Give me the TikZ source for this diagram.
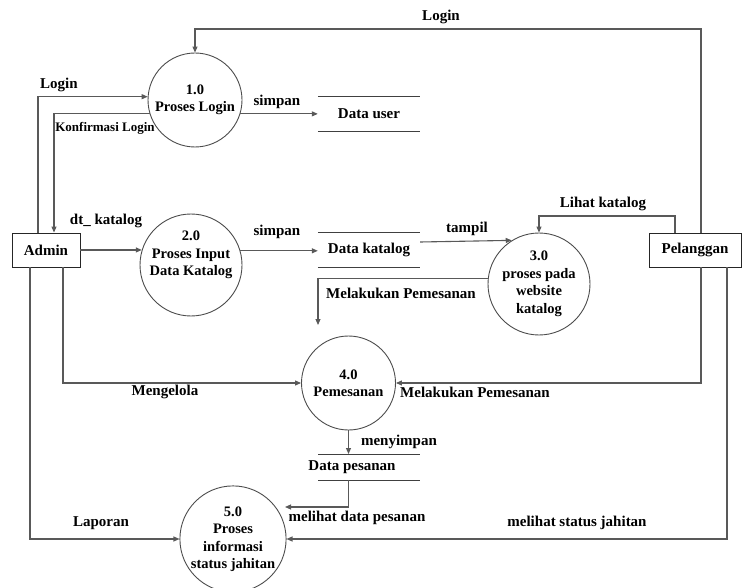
\documentclass[tikz,border=0pt]{standalone}
\usepackage{fontspec}
\setmainfont{Liberation Serif}
\usetikzlibrary{arrows.meta,calc}
\begin{document}
\begin{tikzpicture}[x=1pt,y=-1pt,
  font=\fontsize{15}{17.5}\selectfont\bfseries,
  proc/.style={circle,draw=black!70,line width=0.9pt,inner sep=0pt,align=center,font=\fontsize{14.5}{17.5}\selectfont\bfseries},
  ent/.style={rectangle,draw=black!85,line width=0.9pt,minimum height=34pt,inner sep=0pt},
  flow/.style={draw=black!65,line width=1.1pt,-{Triangle[length=6pt,width=5pt]}},
  plain/.style={draw=black!65,line width=1.1pt},
  storeline/.style={draw=black!75,line width=1pt},
  store/.style={inner sep=0pt,minimum width=102pt},
  lbl/.style={inner sep=0pt}]
\useasboundingbox (0,0) rectangle (742,588);

% processes
\node[proc,minimum size=94pt] (p1) at (195,100) {1.0\\Proses Login};
\node[proc,minimum size=102pt] (p2) at (191,265) {};
\node[lbl,align=center,font=\fontsize{14.5}{17.5}\selectfont\bfseries] (p2t) at ([yshift=10pt]p2.center) {2.0\\Proses Input\\Data Katalog};
\node[proc,minimum size=102pt] (p3) at (539,284) {3.0\\proses pada\\website\\katalog};
\node[proc,minimum size=94pt] (p4) at (348.5,383) {4.0\\Pemesanan};
\node[proc,minimum size=102pt] (p5) at (233,539) {5.0\\Proses\\informasi\\status jahitan};

% entities
\node[ent,minimum width=68pt] (adm) at (46,250) {Admin};
\node[ent,minimum width=92pt] (pel) at (695,250) {Pelanggan};

% data stores
\node[store,minimum height=34pt] (du) at (369,114) {Data user};
\node[store,minimum height=34pt] (dk) at (369,250) {Data katalog};
\node[store,minimum height=26pt] (dp) at (352,467) {Data pesanan};
\draw[storeline] (du.north west) -- (du.north east) (du.south west) -- (du.south east);
\draw[storeline] (dk.north west) -- (dk.north east) (dk.south west) -- (dk.south east);
\draw[storeline] (318,454) -- (420,454) (318,480) -- (420,480);

\coordinate (c1) at (318,325);
\coordinate (c2) at (285,507);

% flows
\draw[flow] ([xshift=6pt]pel.north) |- (p1.north |- 0,29) -- (p1.north);
\draw[flow] ([xshift=-8pt]adm.north) |- (p1.176);
\draw[flow] (p1.197) -| ([xshift=8pt]adm.north);
\draw[flow] (p1.-17) -- (p1.-17 -| du.west);
\draw[flow] (adm.east |- p2.163) -- (p2.163);
\draw[flow] (p2.16) -- (p2.16 -| dk.west);
\draw[flow] ([yshift=8pt]dk.east) -- (p3.122);
\draw[flow] ([xshift=-20pt]pel.north) |- (p3.north |- 0,216) -- (p3.north);
\draw[flow] (p3.174) -| (c1);
\draw[flow] ([xshift=17pt]adm.south) |- (p4.west);
\draw[flow] ([xshift=6pt]pel.south) |- (p4.east);
\draw[flow] ([xshift=32pt]pel.south) |- (p5.east);
\draw[flow] ([xshift=-16pt]adm.south) |- (p5.west);
\draw[flow] (p4.south) -- (p4.south |- 0,454);
\draw[flow] (p4.south |- 0,480) |- (c2);

% labels
\node[lbl] (l1) at (441,17) {Login};
\node[lbl] (l2) at (59,85) {Login};
\node[lbl,font=\fontsize{13}{15}\selectfont\bfseries] (l3) at (105,128) {Konfirmasi Login};
\node[lbl] (l4) at (277,102) {simpan};
\node[lbl] (l5) at (106,221) {dt\_ katalog};
\node[lbl] (l6) at (277,232) {simpan};
\node[lbl] (l7) at (467,229) {tampil};
\node[lbl] (l8) at (603,204) {Lihat katalog};
\node[lbl] (l9) at (401,293) {Melakukan Pemesanan};
\node[lbl] (l10) at (165,392) {Mengelola};
\node[lbl] (l11) at (475,392) {Melakukan Pemesanan};
\node[lbl] (l12) at (399,442) {menyimpan};
\node[lbl] (l13) at (357,518) {melihat data pesanan};
\node[lbl] (l14) at (101,523) {Laporan};
\node[lbl] (l15) at (577,523) {melihat status jahitan};
\end{tikzpicture}
\end{document}
